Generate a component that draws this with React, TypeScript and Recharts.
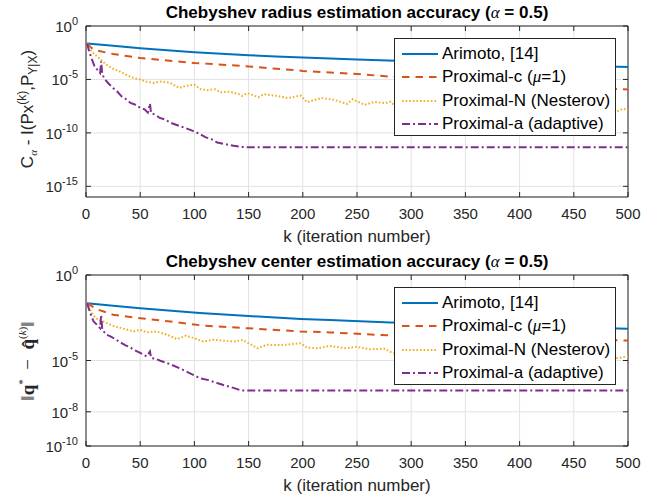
import React from 'react';
import { LineChart, Line, XAxis, YAxis, CartesianGrid, ReferenceArea, Legend } from 'recharts';

const FONT = '"Liberation Sans", Arial, Helvetica, sans-serif';
const SERIF = '"Liberation Serif", "DejaVu Serif", serif';
const AXIS = '#262626';
const PLOT_W = 542;
const PLOT_H = 171;

const kTicks = [0, 50, 100, 150, 200, 250, 300, 350, 400, 450, 500];
const radiusTicks = [1e-15, 1e-10, 1e-5, 1];
const centerTicks = [1e-10, 1e-8, 1e-5, 1];

// top panel: Chebyshev radius error
const radiusArimotoK = [1, 25, 50, 75, 100, 125, 150, 175, 200, 250, 300, 400, 500];
const radiusArimoto = [2.34e-2, 1.41e-2, 8.5e-3, 5.4e-3, 3.55e-3, 2.5e-3, 1.86e-3, 1.41e-3, 1.12e-3, 7.4e-4, 5.0e-4, 2.7e-4, 1.48e-4];

const radiusProxCK = [1, 5, 10, 25, 50, 75, 100, 150, 200, 250, 300, 400, 500];
const radiusProxC = [2.3e-2, 8.9e-3, 5.0e-3, 2.4e-3, 1.0e-3, 6.0e-4, 3.5e-4, 1.66e-4, 6.3e-5, 3.2e-5, 1.3e-5, 4.0e-6, 1.15e-6];

const radiusProxNK = [1, 4, 7, 12, 19, 25, 31, 38, 44, 50, 55, 62, 68, 77, 86, 92, 100, 106, 112, 119, 124, 133, 141, 144, 149, 159, 164, 176, 186, 198, 204, 217, 229, 241, 246, 257, 266, 276, 281, 285, 350, 420, 480, 490, 495, 500];
const radiusProxN = [2.3e-2, 6.3e-3, 2.75e-3, 1.0e-3, 2.3e-4, 1.0e-4, 5.6e-5, 2.5e-5, 1.35e-5, 1.0e-5, 6.3e-6, 4.7e-6, 6.3e-6, 5.2e-6, 1.6e-6, 2.5e-6, 3.2e-6, 1.2e-6, 1.0e-6, 1.2e-6, 6.3e-7, 7.0e-7, 4.2e-7, 2.9e-7, 5.1e-7, 2.2e-7, 4.2e-7, 2.9e-7, 1.8e-7, 3.1e-7, 7.4e-8, 1.8e-7, 1.23e-7, 5.2e-8, 1.4e-7, 4.2e-8, 7.9e-8, 6.0e-8, 8.5e-8, 3.0e-8, 4.0e-8, 2.5e-8, 1.26e-8, 1.0e-8, 1.8e-8, 1.4e-8];

const radiusAdaptK = [1, 3, 5, 8, 11, 13, 14, 15, 17, 21, 25, 29, 33, 37, 41, 45, 50, 54, 57, 59, 60, 64, 68, 73, 78, 86, 92, 98, 104, 110, 116, 121, 128, 136, 142, 148, 500];
const radiusAdapt = [2.3e-2, 4.0e-3, 1.0e-3, 1.6e-4, 7.1e-5, 4.0e-5, 5.0e-4, 3.2e-5, 1.12e-5, 4.0e-6, 1.6e-6, 7.1e-7, 2.5e-7, 1.4e-7, 6.3e-8, 4.5e-8, 2.2e-8, 1.6e-8, 8.0e-9, 5.6e-8, 7.1e-9, 5.0e-9, 2.5e-9, 1.8e-9, 8.9e-10, 4.5e-10, 2.8e-10, 1.6e-10, 8.9e-11, 4.0e-11, 2.5e-11, 1.26e-11, 8.9e-12, 6.3e-12, 5.0e-12, 4.5e-12, 4.5e-12];

// bottom panel: Chebyshev center error
const centerArimotoK = [1, 25, 50, 105, 150, 198, 225, 281, 400, 500];
const centerArimoto = [2.24e-2, 1.58e-2, 1.12e-2, 6.0e-3, 4.0e-3, 2.7e-3, 2.34e-3, 1.66e-3, 1.05e-3, 7.1e-4];

const centerProxCK = [1, 10, 25, 50, 78, 108, 150, 198, 225, 281, 400, 500];
const centerProxC = [2.24e-2, 1.0e-2, 4.7e-3, 2.95e-3, 1.9e-3, 1.1e-3, 7.6e-4, 5.0e-4, 4.4e-4, 2.9e-4, 2.0e-4, 1.48e-4];

const centerProxNK = [1, 5, 9, 15, 25, 35, 44, 50, 56, 65, 75, 84, 92, 100, 108, 118, 128, 136, 145, 158, 167, 180, 198, 204, 214, 225, 240, 250, 262, 275, 283, 350, 420, 480, 490, 500];
const centerProxN = [2.24e-2, 6.3e-3, 2.95e-3, 2.0e-3, 1.07e-3, 7.1e-4, 5.0e-4, 6.3e-4, 4.4e-4, 5.0e-4, 3.2e-4, 1.78e-4, 2.8e-4, 2.0e-4, 1.29e-4, 1.62e-4, 1.41e-4, 1.29e-4, 1.58e-4, 5.2e-5, 8.3e-5, 7.9e-5, 1.02e-4, 5.6e-5, 5.2e-5, 7.1e-5, 5.2e-5, 6.3e-5, 4.5e-5, 5.0e-5, 2.7e-5, 2.5e-5, 2.0e-5, 1.78e-5, 1.38e-5, 1.74e-5];

const centerAdaptK = [1, 4, 7, 10, 13, 14, 15, 19, 23, 28, 32, 36, 40, 44, 50, 56, 59, 60, 64, 68, 77, 86, 96, 105, 113, 121, 128, 136, 143, 500];
const centerAdapt = [2.24e-2, 5.8e-3, 1.9e-3, 1.26e-3, 7.9e-4, 4.7e-3, 6.3e-4, 3.2e-4, 2.5e-4, 1.62e-4, 1.12e-4, 7.9e-5, 6.3e-5, 4.3e-5, 2.8e-5, 1.74e-5, 3.4e-5, 1.41e-5, 1.26e-5, 1.0e-5, 6.3e-6, 3.6e-6, 1.78e-6, 9.3e-7, 7.1e-7, 4.8e-7, 3.5e-7, 2.5e-7, 1.78e-7, 1.78e-7];

const toPoints = (k: number[], v: number[]) => k.map((x, i) => ({ k: x, v: v[i] }));

const styles = [
  { color: '#0072BD', dash: undefined, label: <>Arimoto, [14]</> },
  {
    color: '#D95319',
    dash: '7.5 6',
    label: (
      <>
        Proximal-c (<span style={{ fontStyle: 'italic', fontFamily: SERIF }}>μ</span>=1)
      </>
    ),
  },
  { color: '#EDB120', dash: '1.6 2', label: <>Proximal-N (Nesterov)</> },
  { color: '#7E2F8E', dash: '8 3 2 3', label: <>Proximal-a (adaptive)</> },
];

const YTick = (props: any) => {
  const { x, y, payload } = props;
  const exp = Math.round(Math.log10(payload.value));
  return (
    <g>
      <line x1={x} x2={x + 5} y1={y} y2={y} stroke={AXIS} />
      <line x1={x + PLOT_W - 5} x2={x + PLOT_W} y1={y} y2={y} stroke={AXIS} />
      <text x={x - 8} y={y + 6} textAnchor="end" fill={AXIS} fontFamily={FONT} fontSize={15}>
        10<tspan dy={-7} fontSize={11}>{exp}</tspan>
      </text>
    </g>
  );
};

const XTick = (props: any) => {
  const { x, y, payload } = props;
  return (
    <g>
      <line x1={x} x2={x} y1={y} y2={y - 5} stroke={AXIS} />
      <line x1={x} x2={x} y1={y - PLOT_H} y2={y - PLOT_H + 5} stroke={AXIS} />
      <text x={x} y={y + 22} textAnchor="middle" fill={AXIS} fontFamily={FONT} fontSize={15}>
        {payload.value}
      </text>
    </g>
  );
};

const XLabel = (props: any) => {
  const { viewBox } = props;
  return (
    <text x={viewBox.x + viewBox.width / 2} y={viewBox.y + 45} textAnchor="middle" fill={AXIS} fontFamily={FONT} fontSize={17}>
      k (iteration number)
    </text>
  );
};

const RadiusYLabel = () => (
  <text x={33} y={109} transform="rotate(-90 33 109)" textAnchor="middle" fill={AXIS} fontFamily={FONT} fontSize={17}>
    C<tspan dy={4} fontSize={11} fontFamily={SERIF} fontStyle="italic">α</tspan>
    <tspan dy={-4}> - I(Px</tspan>
    <tspan dy={-7} fontSize={12}>(k)</tspan>
    <tspan dy={7}>,P</tspan>
    <tspan dy={4} fontSize={12}>Y|X</tspan>
    <tspan dy={-4}>)</tspan>
  </text>
);

const CenterYLabel = () => (
  <text x={34} y={112} transform="rotate(-90 34 112)" textAnchor="middle" fill={AXIS} fontFamily={SERIF} fontSize={19}>
    ‖<tspan fontWeight="bold">q</tspan>
    <tspan dy={-8} fontSize={11}>*</tspan>
    <tspan dy={8}>{'\u2002−\u2002'}</tspan>
    <tspan fontWeight="bold">q̂</tspan>
    <tspan dy={-8} fontSize={11}>(</tspan>
    <tspan fontSize={11} fontStyle="italic">k</tspan>
    <tspan fontSize={11}>)</tspan>
    <tspan dy={8}>‖</tspan>
  </text>
);

const LegendBox = () => (
  <div
    style={{
      width: 222,
      height: 98,
      boxSizing: 'border-box',
      border: `1px solid ${AXIS}`,
      background: '#fff',
      paddingTop: 3,
      fontFamily: FONT,
      fontSize: 17,
      color: '#000',
    }}
  >
    {styles.map((s, i) => (
      <div key={i} style={{ display: 'flex', alignItems: 'center', height: 23.5, whiteSpace: 'nowrap' }}>
        <svg width={47} height={10} style={{ flexShrink: 0 }}>
          <line x1={7} x2={43} y1={5} y2={5} stroke={s.color} strokeWidth={2} strokeDasharray={s.dash} />
        </svg>
        <span>{s.label}</span>
      </div>
    ))}
  </div>
);

type Series = { k: number[]; v: number[] };

const Panel = ({
  title,
  top,
  domain,
  ticks,
  series,
  yLabel,
}: {
  title: string;
  top: number;
  domain: [number, number];
  ticks: number[];
  series: Series[];
  yLabel: React.ReactElement;
}) => (
  <div style={{ position: 'absolute', left: 0, top, width: 660, height: 250 }}>
    <LineChart width={660} height={250} margin={{ top: 26, right: 32, left: 0, bottom: 0 }}>
      <CartesianGrid stroke="#e3e3e3" strokeWidth={1} />
      <XAxis
        dataKey="k"
        type="number"
        domain={[0, 500]}
        ticks={kTicks}
        height={53}
        axisLine={false}
        tickLine={false}
        tickSize={0}
        tickMargin={0}
        tick={<XTick />}
        label={<XLabel />}
        allowDataOverflow
      />
      <YAxis
        type="number"
        scale="log"
        domain={domain}
        ticks={ticks}
        width={86}
        axisLine={false}
        tickLine={false}
        tickSize={0}
        tickMargin={0}
        tick={<YTick />}
        label={yLabel}
        allowDataOverflow
      />
      <ReferenceArea x1={0} x2={500} y1={domain[0]} y2={domain[1]} fill="none" stroke={AXIS} strokeWidth={1} />
      {series.map((s, i) => (
        <Line
          key={i}
          data={toPoints(s.k, s.v)}
          dataKey="v"
          type="linear"
          stroke={styles[i].color}
          strokeWidth={2}
          strokeDasharray={styles[i].dash}
          dot={false}
          isAnimationActive={false}
        />
      ))}
      <Legend
        content={() => <LegendBox />}
        layout="horizontal"
        verticalAlign="middle"
        align="center"
        wrapperStyle={{ left: 394, top: 38, width: 222, height: 98 }}
      />
    </LineChart>
    <svg width={660} height={30} style={{ position: 'absolute', left: 0, top: 0, pointerEvents: 'none' }}>
      <text x={357} y={18} textAnchor="middle" fontFamily={FONT} fontSize={17} fontWeight="bold" fill="#000">
        {title} (<tspan fontWeight="normal" fontStyle="italic" fontFamily={SERIF}>α</tspan> = 0.5)
      </text>
    </svg>
  </div>
);

export default function App() {
  return (
    <div style={{ position: 'absolute', left: 0, top: 0, width: 660, height: 499, background: '#fff' }}>
      <Panel
        title="Chebyshev radius estimation accuracy"
        top={0}
        domain={[1e-16, 1]}
        ticks={radiusTicks}
        yLabel={<RadiusYLabel />}
        series={[
          { k: radiusArimotoK, v: radiusArimoto },
          { k: radiusProxCK, v: radiusProxC },
          { k: radiusProxNK, v: radiusProxN },
          { k: radiusAdaptK, v: radiusAdapt },
        ]}
      />
      <Panel
        title="Chebyshev center estimation accuracy"
        top={249}
        domain={[1e-10, 1]}
        ticks={centerTicks}
        yLabel={<CenterYLabel />}
        series={[
          { k: centerArimotoK, v: centerArimoto },
          { k: centerProxCK, v: centerProxC },
          { k: centerProxNK, v: centerProxN },
          { k: centerAdaptK, v: centerAdapt },
        ]}
      />
    </div>
  );
}
